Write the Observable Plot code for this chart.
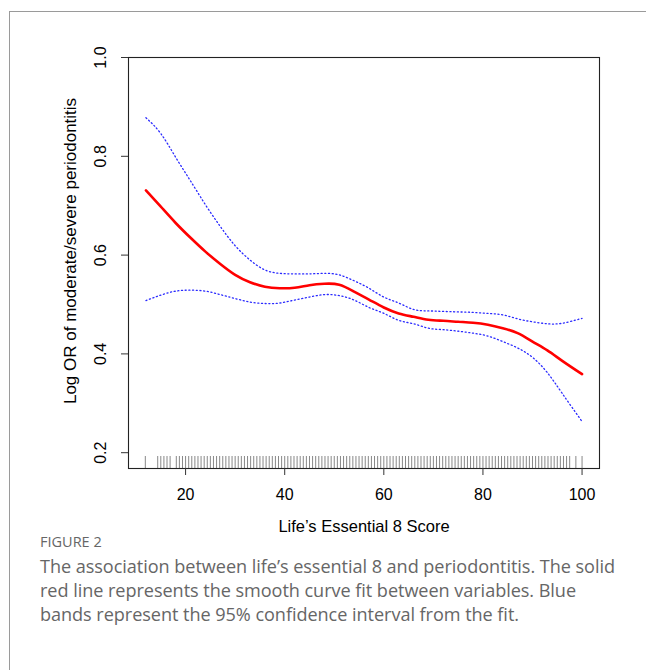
<!DOCTYPE html>
<html>
<head>
<meta charset="utf-8">
<script src="https://cdn.jsdelivr.net/npm/d3@7"></script>
<script src="https://cdn.jsdelivr.net/npm/@observablehq/plot@0.6"></script>
<style>
  html, body { margin: 0; padding: 0; background: #fff; }
  #page { position: relative; width: 646px; height: 670px; overflow: hidden; }
  #card { position: absolute; left: 9px; top: 11px; width: 700px; height: 700px;
          border-top: 1px solid #9a9a9a; border-left: 1px solid #9a9a9a; }
  #chart { position: absolute; left: 0; top: 0; }
  #caption { position: absolute; left: 40px; top: 532px; width: 600px;
             font-family: "Open Sans", Lato, sans-serif; color: #666; }
  #caption .fig { font-size: 14.5px; margin-bottom: 3px; }
  #caption .txt { font-size: 18.1px; line-height: 24px; white-space: nowrap; letter-spacing: -0.05px; }
</style>
</head>
<body>
<div id="page">
  <div id="card"></div>
  <div id="chart"></div>
  <div id="caption">
    <div class="fig">FIGURE 2</div>
    <div class="txt">The association between life’s essential 8 and periodontitis. The solid<br>red line represents the smooth curve fit between variables. Blue<br>bands represent the 95% confidence interval from the fit.</div>
  </div>
</div>
<script>
// Life's Essential 8 score grid
const score = [12, 15, 18, 21, 24, 27, 30, 33, 36, 39, 42, 45, 48, 51, 54, 57, 60, 63, 66, 69, 72, 75, 78, 81, 84, 87, 90, 93, 96, 100];
// Smooth curve fit (log OR)
const fit = [0.731, 0.698, 0.665, 0.635, 0.607, 0.582, 0.560, 0.545, 0.536, 0.533, 0.534, 0.539, 0.542, 0.540, 0.526, 0.510, 0.494, 0.482, 0.475, 0.469, 0.467, 0.465, 0.463, 0.459, 0.452, 0.442, 0.425, 0.407, 0.386, 0.359];
// 95% CI upper
const upper = [0.878, 0.846, 0.798, 0.750, 0.702, 0.658, 0.619, 0.590, 0.570, 0.563, 0.562, 0.562, 0.563, 0.560, 0.548, 0.533, 0.515, 0.503, 0.490, 0.487, 0.486, 0.485, 0.484, 0.482, 0.479, 0.471, 0.465, 0.461, 0.462, 0.472];
// 95% CI lower
const lower = [0.508, 0.519, 0.527, 0.529, 0.527, 0.520, 0.512, 0.505, 0.502, 0.503, 0.509, 0.515, 0.520, 0.518, 0.509, 0.494, 0.482, 0.468, 0.461, 0.452, 0.449, 0.446, 0.442, 0.436, 0.425, 0.412, 0.393, 0.362, 0.320, 0.263];
// Observed scores (rug)
const rug = [11.875, 14.375, 15, 15.625, 16.25, 16.875, 18.125, 18.75, 19.375,
  20, 20.625, 21.25, 21.875, 22.5, 23.125, 23.75, 24.375,
  25, 25.625, 26.25, 26.875, 27.5, 28.125, 28.75, 29.375,
  30, 30.625, 31.25, 31.875, 32.5, 33.125, 33.75, 34.375,
  35, 35.625, 36.25, 36.875, 37.5, 38.125, 38.75, 39.375,
  40, 40.625, 41.25, 41.875, 42.5, 43.125, 43.75, 44.375,
  45, 45.625, 46.25, 46.875, 47.5, 48.125, 48.75, 49.375,
  50, 50.625, 51.25, 51.875, 52.5, 53.125, 53.75, 54.375,
  55, 55.625, 56.25, 56.875, 57.5, 58.125, 58.75, 59.375,
  60, 60.625, 61.25, 61.875, 62.5, 63.125, 63.75, 64.375,
  65, 65.625, 66.25, 66.875, 67.5, 68.125, 68.75, 69.375,
  70, 70.625, 71.25, 71.875, 72.5, 73.125, 73.75, 74.375,
  75, 75.625, 76.25, 76.875, 77.5, 78.125, 78.75, 79.375,
  80, 80.625, 81.25, 81.875, 82.5, 83.125, 83.75, 84.375,
  85, 85.625, 86.25, 86.875, 87.5, 88.125, 88.75, 89.375,
  90, 90.625, 91.25, 91.875, 92.5, 93.125, 93.75, 94.375,
  95, 95.625, 96.25, 96.875, 97.5, 98.75, 100];
const xTicks = [20, 40, 60, 80, 100];
const yTicks = [0.2, 0.4, 0.6, 0.8, 1.0];
const xTitle = "Life’s Essential 8 Score";
const yTitle = "Log OR of moderate/severe periodontitis";

const rows = score.map((s, i) => ({score: s, fit: fit[i], upper: upper[i], lower: lower[i]}));

const W = 646, H = 540;
const mL = 128, mR = 47, mT = 57, mB = 72;
const frameH = H - mT - mB;
const font = "'Liberation Sans', Arial, sans-serif";

const chart = Plot.plot({
  width: W,
  height: H,
  marginLeft: mL,
  marginRight: mR,
  marginTop: mT,
  marginBottom: mB,
  style: {fontFamily: font, fontSize: "16px", color: "#000", background: "transparent", overflow: "visible"},
  x: {domain: [8.48, 103.52], ticks: xTicks, label: null},
  y: {domain: [0.168, 1.0], ticks: yTicks, label: null},
  marks: [
    Plot.ruleX(rug, {x: d => d, stroke: "#888", strokeWidth: 1, insetTop: frameH - 12}),
    Plot.line(rows, {x: "score", y: "upper", stroke: "#2a2aff", strokeWidth: 1.3, strokeDasharray: "1.1,2.6", curve: "natural"}),
    Plot.line(rows, {x: "score", y: "lower", stroke: "#2a2aff", strokeWidth: 1.3, strokeDasharray: "1.1,2.6", curve: "natural"}),
    Plot.line(rows, {x: "score", y: "fit", stroke: "#ff0000", strokeWidth: 2.6, curve: "natural"}),
    Plot.frame({stroke: "#222", strokeWidth: 1.1}),
    Plot.axisX({ticks: xTicks, tickSize: 7, tickPadding: 13, stroke: "#333", fontSize: 16, label: null}),
    Plot.axisY({ticks: yTicks, tickSize: 7, tickFormat: () => "", stroke: "#333", label: null}),
    Plot.text(yTicks, {y: d => d, text: d => d.toFixed(1), frameAnchor: "left", dx: -28, rotate: -90, textAnchor: "middle", lineAnchor: "middle", fontSize: 16, fill: "#000"}),
    Plot.text([xTitle], {text: d => d, frameAnchor: "bottom", dy: 58, textAnchor: "middle", lineAnchor: "middle", fontSize: 16.5, fill: "#000"}),
    Plot.text([yTitle], {text: d => d, frameAnchor: "left", dx: -58, dy: -12, rotate: -90, textAnchor: "middle", lineAnchor: "middle", fontSize: 17, fill: "#000"})
  ]
});
document.getElementById("chart").appendChild(chart);
</script>
</body>
</html>
